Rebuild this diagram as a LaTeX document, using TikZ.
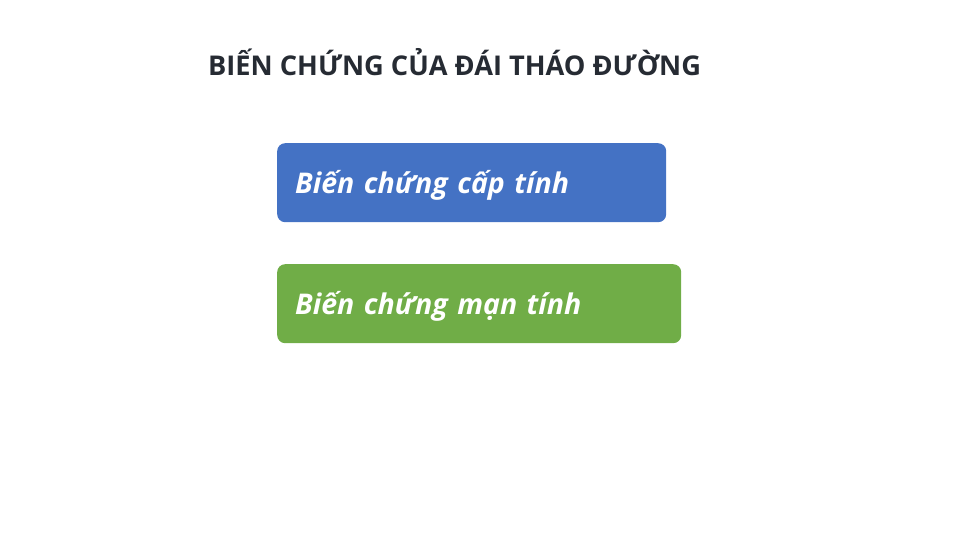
\documentclass[tikz,border=0pt]{standalone}
\usepackage{fontspec}
\setmainfont{Open Sans}
\definecolor{acuteblue}{HTML}{4472C4}
\definecolor{chronicgreen}{HTML}{70AD47}
\definecolor{titlegray}{HTML}{262B33}
\tikzset{
  kindbox/.style={rectangle, rounded corners=8pt, anchor=north west,
    minimum height=79pt, inner xsep=18pt, align=left, text depth=1pt,
    text=white, font=\fontsize{28.5}{32}\selectfont\bfseries\itshape},
}
\begin{document}
\begin{tikzpicture}[x=1pt, y=-1pt]
\useasboundingbox (0,0) rectangle (960,540);
\node[anchor=base west, text=titlegray, inner sep=0pt,
  font=\fontsize{27.2}{30}\selectfont\bfseries] (title) at (208,76)
  {BIẾN CHỨNG CỦA ĐÁI THÁO ĐƯỜNG};
\node[kindbox, fill=acuteblue, text width=353pt] (acute) at (277,143)
  {Biến chứng cấp tính};
\node[kindbox, fill=chronicgreen, text width=368pt] (chronic) at (277,264)
  {Biến chứng mạn tính};
\end{tikzpicture}
\end{document}
